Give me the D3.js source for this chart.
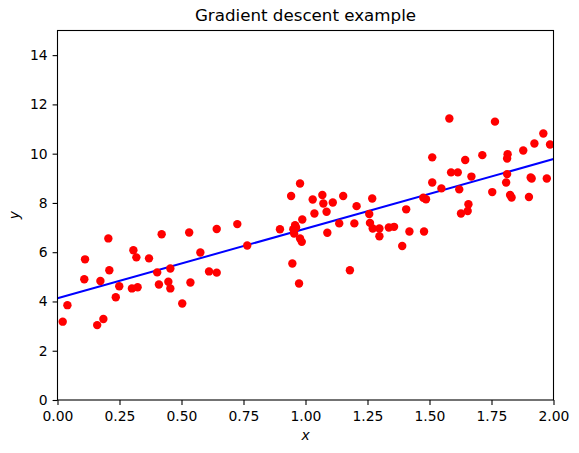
<!DOCTYPE html>
<html>
<head>
<meta charset="utf-8">
<script src="https://cdn.jsdelivr.net/npm/d3@7"></script>
<style>
  body { margin: 0; background: #fff; }
  svg { display: block; font-family: "DejaVu Sans", sans-serif; }
</style>
</head>
<body>
<div id="chart"></div>
<script>
// scattered training points (x, y)
const xs = [0.021, 0.04, 0.111, 0.108, 0.16, 0.185, 0.173, 0.205, 0.209, 0.235,
    0.249, 0.306, 0.318, 0.30, 0.323, 0.369, 0.42, 0.402, 0.409, 0.455,
    0.447, 0.455, 0.503, 0.531, 0.536, 0.576, 0.611, 0.642, 0.642, 0.725,
    0.765, 0.897, 0.942, 0.978, 0.947, 0.974, 0.951, 0.958, 0.962, 0.987,
    0.954, 0.978, 0.985, 1.029, 1.036, 1.068, 1.072, 1.085, 1.11, 1.152,
    1.088, 1.136, 1.179, 1.197, 1.206, 1.269, 1.257, 1.26, 1.271, 1.298,
    1.298, 1.336, 1.357, 1.39, 1.419, 1.406, 1.478, 1.475, 1.486, 1.511,
    1.511, 1.548, 1.58, 1.587, 1.614, 1.62, 1.627, 1.654, 1.657, 1.644,
    1.669, 1.713, 1.753, 1.764, 1.813, 1.809, 1.815, 1.813, 1.825, 1.831,
    1.878, 1.901, 1.908, 1.912, 1.923, 1.959, 1.973, 1.986]
const ys = [3.18, 3.85, 5.71, 4.9, 3.04, 3.29, 4.83, 6.56, 5.27, 4.17,
    4.62, 6.08, 5.79, 4.53, 4.58, 5.75, 6.73, 5.18, 4.69, 5.34,
    4.8, 4.53, 3.92, 6.8, 4.77, 5.99, 5.22, 6.94, 5.17, 7.14,
    6.27, 6.93, 8.28, 8.79, 5.54, 4.73, 6.93, 7.1, 7.0, 7.33,
    6.76, 6.56, 6.42, 8.14, 7.57, 8.32, 7.98, 7.64, 8.02, 8.28,
    6.79, 7.17, 5.27, 7.17, 7.87, 8.18, 7.55, 7.19, 6.96, 6.96,
    6.65, 7.0, 7.03, 6.25, 6.84, 7.74, 6.84, 8.21, 8.15, 8.83,
    9.85, 8.59, 11.43, 9.24, 9.24, 8.55, 7.57, 7.67, 7.95, 9.74,
    9.07, 9.94, 8.44, 11.3, 9.17, 8.83, 9.98, 9.8, 8.32, 8.22,
    10.13, 8.24, 9.03, 8.99, 10.41, 10.82, 8.99, 10.37]

// fitted line
const xNew = [0, 2]
const yPredict = [4.13, 9.78]

const xTicks = [0, 0.25, 0.5, 0.75, 1, 1.25, 1.5, 1.75, 2]
const yTicks = [0, 2, 4, 6, 8, 10, 12, 14]

const width = 579
const height = 453
const margin = {top: 30.5, right: 25.5, bottom: 53, left: 57.5}
const innerW = width - margin.left - margin.right
const innerH = height - margin.top - margin.bottom

const svg = d3.select('#chart').append('svg')
    .attr('width', width)
    .attr('height', height)

const x = d3.scaleLinear().domain([0, 2]).range([0, innerW])
const y = d3.scaleLinear().domain([0, 15]).range([innerH, 0])

const plot = svg.append('g')
    .attr('transform', `translate(${margin.left}, ${margin.top})`)

plot.append('defs').append('clipPath').attr('id', 'clip')
    .append('rect').attr('width', innerW).attr('height', innerH)

const marks = plot.append('g').attr('clip-path', 'url(#clip)')

const line = d3.line().x(d => x(d[0])).y(d => y(d[1]))
marks.append('path')
    .datum(d3.zip(xNew, yPredict))
    .attr('d', line)
    .attr('fill', 'none')
    .attr('stroke', '#0000ff')
    .attr('stroke-width', 2)

marks.selectAll('circle')
    .data(d3.zip(xs, ys))
    .join('circle')
    .attr('cx', d => x(d[0]))
    .attr('cy', d => y(d[1]))
    .attr('r', 4.2)
    .attr('fill', '#ff0000')

// axes
const xAxis = d3.axisBottom(x).tickValues(xTicks).tickFormat(d3.format('.2f'))
    .tickSizeOuter(0).tickSize(4.9).tickPadding(6.5)
const yAxis = d3.axisLeft(y).tickValues(yTicks).tickFormat(d3.format('d'))
    .tickSizeOuter(0).tickSize(4.9).tickPadding(4.9)

const gx = plot.append('g').attr('transform', `translate(0, ${innerH})`).call(xAxis)
const gy = plot.append('g').call(yAxis)
;[gx, gy].forEach(g => {
    g.select('.domain').remove()
    g.selectAll('line').attr('stroke', '#000').attr('stroke-width', 1.1)
    g.selectAll('text').attr('fill', '#000')
        .style('font-family', '"DejaVu Sans", sans-serif')
        .style('font-size', '13.9px')
})

// frame
plot.append('rect')
    .attr('width', innerW)
    .attr('height', innerH)
    .attr('fill', 'none')
    .attr('stroke', '#000')
    .attr('stroke-width', 1.1)

svg.append('text')
    .attr('x', margin.left + innerW / 2)
    .attr('y', 21)
    .attr('text-anchor', 'middle')
    .style('font-size', '16.7px')
    .text('Gradient descent example')

svg.append('text')
    .attr('x', margin.left + innerW / 2)
    .attr('y', 440)
    .attr('text-anchor', 'middle')
    .style('font-size', '13.9px')
    .style('font-style', 'italic')
    .text('x')

svg.append('text')
    .attr('transform', `translate(19, ${margin.top + innerH / 2}) rotate(-90)`)
    .attr('text-anchor', 'middle')
    .style('font-size', '13.9px')
    .style('font-style', 'italic')
    .text('y')
</script>
</body>
</html>
